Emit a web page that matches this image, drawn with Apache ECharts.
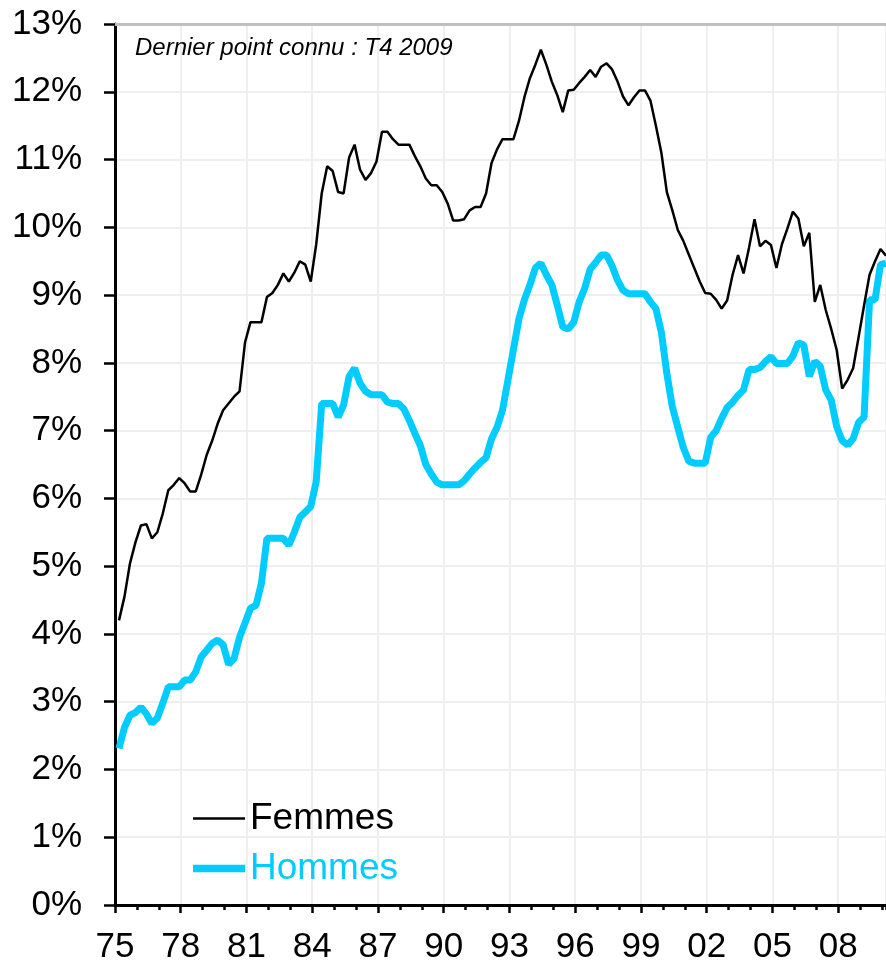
<!DOCTYPE html>
<html>
<head>
<meta charset="utf-8">
<script src="https://cdn.jsdelivr.net/npm/echarts@6/dist/echarts.min.js"></script>
<style>
  html, body { margin: 0; padding: 0; background: #fff; }
  #chart { width: 886px; height: 965px; }
</style>
</head>
<body>
<div id="chart"></div>
<script>
// taux de chômage trimestriel, en %
const femmes = [4.2, 4.55, 5.04, 5.35, 5.6, 5.62, 5.41, 5.5, 5.78, 6.12,
  6.2, 6.3, 6.22, 6.1, 6.1, 6.35, 6.64, 6.85, 7.1, 7.3,
  7.4, 7.5, 7.58, 8.3, 8.6, 8.6, 8.6, 8.97, 9.03, 9.15,
  9.32, 9.2, 9.33, 9.5, 9.45, 9.2, 9.75, 10.5, 10.9, 10.83,
  10.52, 10.5, 11.03, 11.22, 10.85, 10.7, 10.8, 10.97, 11.41, 11.41,
  11.3, 11.22, 11.22, 11.22, 11.05, 10.9, 10.72, 10.62, 10.62, 10.52,
  10.35, 10.1, 10.1, 10.12, 10.25, 10.3, 10.3, 10.5, 10.95, 11.15,
  11.3, 11.3, 11.3, 11.57, 11.92, 12.2, 12.4, 12.62, 12.4, 12.15,
  11.95, 11.7, 12.02, 12.03, 12.13, 12.22, 12.32, 12.22, 12.37, 12.42,
  12.33, 12.15, 11.93, 11.8, 11.92, 12.02, 12.02, 11.87, 11.5, 11.1,
  10.52, 10.25, 9.96, 9.8, 9.6, 9.4, 9.2, 9.03, 9.02, 8.93,
  8.8, 8.92, 9.3, 9.59, 9.32, 9.7, 10.12, 9.72, 9.8, 9.74,
  9.4, 9.75, 9.98, 10.23, 10.13, 9.72, 9.92, 8.9, 9.15, 8.78,
  8.5, 8.19, 7.62, 7.75, 7.92, 8.38, 8.85, 9.3, 9.5, 9.68,
  9.58];

const hommes = [2.31, 2.62, 2.8, 2.84, 2.92, 2.82, 2.68, 2.76, 2.98, 3.22,
  3.22, 3.22, 3.32, 3.32, 3.44, 3.66, 3.76, 3.86, 3.91, 3.84,
  3.55, 3.64, 3.95, 4.16, 4.38, 4.42, 4.75, 5.41, 5.41, 5.41,
  5.41, 5.31, 5.5, 5.72, 5.8, 5.88, 6.25, 7.4, 7.4, 7.4,
  7.2, 7.38, 7.8, 7.92, 7.7, 7.58, 7.53, 7.53, 7.53, 7.42,
  7.4, 7.4, 7.32, 7.15, 6.96, 6.78, 6.5, 6.36, 6.24, 6.2,
  6.2, 6.2, 6.2, 6.26, 6.36, 6.45, 6.53, 6.6, 6.88, 7.05,
  7.3, 7.75, 8.2, 8.65, 8.93, 9.15, 9.4, 9.47, 9.3, 9.15,
  8.85, 8.53, 8.5, 8.6, 8.9, 9.1, 9.38, 9.48, 9.59, 9.59,
  9.43, 9.22, 9.07, 9.02, 9.02, 9.02, 9.02, 8.9, 8.8, 8.45,
  7.84, 7.35, 7.05, 6.75, 6.55, 6.52, 6.52, 6.52, 6.9, 7.0,
  7.18, 7.34, 7.42, 7.52, 7.6, 7.9, 7.9, 7.93, 8.02, 8.09,
  7.99, 7.99, 7.99, 8.1, 8.3, 8.26, 7.8, 8.02, 7.95, 7.6,
  7.45, 7.06, 6.85, 6.79, 6.88, 7.12, 7.2, 8.93, 8.93, 9.45,
  9.47];

const xTickLabels = ['75', '78', '81', '84', '87', '90', '93', '96', '99', '02', '05', '08'];
const note = 'Dernier point connu : T4 2009';

// trimestres (axe caché), le dernier est T4 2009
const quarters = [];
for (let i = 0; i < femmes.length; i++) {
  const k = i + 3; // premier point : T4 1974
  quarters.push('T' + (k % 4 + 1) + ' ' + (1974 + Math.floor(k / 4)));
}

const FONT = "'Liberation Sans', Arial, sans-serif";
const CYAN = '#00ccff';
const YEARS_SHOWN = 35.18; // années depuis 1975 visibles jusqu'au bord droit

const chart = echarts.init(document.getElementById('chart'), null, { renderer: 'canvas' });

chart.setOption({
  animation: false,
  backgroundColor: '#fff',
  textStyle: { fontFamily: FONT },
  title: {
    text: note,
    left: 130,
    top: 31,
    textStyle: { fontFamily: FONT, fontStyle: 'italic', fontWeight: 'normal', fontSize: 24, color: '#000' }
  },
  legend: {
    orient: 'vertical',
    left: 188,
    top: 795,
    itemGap: 13,
    itemWidth: 52,
    itemHeight: 14,
    textStyle: { fontFamily: FONT, fontSize: 37 },
    data: [
      { name: 'Femmes', icon: 'path://M0,0H50V2.5H0Z', textStyle: { color: '#000' }, itemStyle: { color: '#000' } },
      { name: 'Hommes', icon: 'path://M0,0H50V7H0Z', textStyle: { color: CYAN }, itemStyle: { color: CYAN } }
    ]
  },
  grid: [
    { left: 115, right: 0, top: 24, bottom: 60 },
    { left: 119, right: 0, top: 24, bottom: 60 }
  ],
  xAxis: [
    {
      type: 'value', gridIndex: 0, position: 'bottom', min: 0, max: YEARS_SHOWN, interval: 3,
      axisLine: { lineStyle: { color: '#000', width: 3 } },
      axisTick: { length: 8, lineStyle: { color: '#000', width: 2.5 } },
      splitLine: { show: true, lineStyle: { color: '#efefef', width: 2 } },
      axisLabel: {
        margin: 25, fontSize: 35, color: '#000', fontFamily: FONT, showMaxLabel: false,
        formatter: v => xTickLabels[Math.round(v / 3)] || ''
      }
    },
    {
      type: 'value', gridIndex: 0, position: 'top', min: 0, max: YEARS_SHOWN,
      axisLine: { lineStyle: { color: '#c0c0c0', width: 3 } },
      axisTick: { show: false }, axisLabel: { show: false }, splitLine: { show: false }
    },
    {
      // graduations annuelles
      type: 'value', gridIndex: 0, position: 'bottom', min: 0, max: YEARS_SHOWN, interval: 1,
      axisLine: { show: false },
      axisTick: { length: 5, lineStyle: { color: '#000', width: 2.5 } },
      axisLabel: { show: false }, splitLine: { show: false }
    },
    {
      type: 'category', gridIndex: 1, data: quarters, boundaryGap: false, show: false
    }
  ],
  yAxis: [
    {
      type: 'value', gridIndex: 0, min: 0, max: 13, interval: 1,
      axisLine: { show: true, lineStyle: { color: '#000', width: 3 } },
      axisTick: { show: true, length: 11, lineStyle: { color: '#000', width: 2.5 } },
      splitLine: { show: true, lineStyle: { color: '#efefef', width: 2 } },
      axisLabel: { margin: 33, fontSize: 35, color: '#000', fontFamily: FONT, formatter: '{value}%' }
    },
    { type: 'value', gridIndex: 1, min: 0, max: 13, show: false }
  ],
  series: [
    {
      name: 'Hommes', type: 'line', xAxisIndex: 3, yAxisIndex: 1,
      data: hommes, symbol: 'none', z: 3,
      lineStyle: { color: CYAN, width: 7 }, itemStyle: { color: CYAN }
    },
    {
      name: 'Femmes', type: 'line', xAxisIndex: 3, yAxisIndex: 1,
      data: femmes, symbol: 'none', z: 4,
      lineStyle: { color: '#000', width: 2.5 }, itemStyle: { color: '#000' }
    }
  ]
});
</script>
</body>
</html>
